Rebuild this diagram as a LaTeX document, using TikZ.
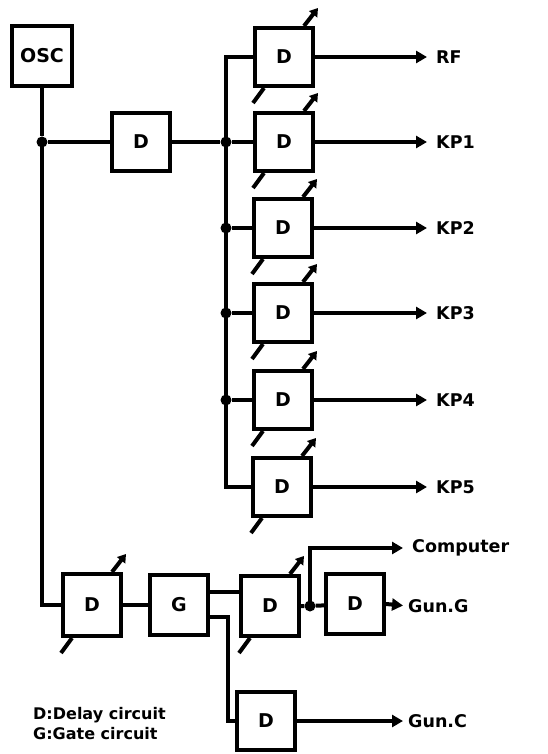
\documentclass[tikz,border=0pt]{standalone}
\usepackage{fontspec}
\setmainfont{DejaVu Sans}
\usetikzlibrary{arrows.meta,calc}
\tikzset{
  box/.style={draw, line width=4pt, fill=white, minimum width=58pt, minimum height=58pt, inner sep=0pt, font=\fontsize{19}{19}\selectfont\bfseries},
  wire/.style={line width=4pt},
  arr/.style={wire, -{Triangle[length=11pt,width=12pt]}},
  vhead/.style={wire, -{Triangle[length=8pt,width=10pt]}},
  jdot/.style={circle, fill=black, inner sep=0pt, minimum size=11pt},
  lab/.style={anchor=west, inner sep=0pt, font=\fontsize{17.5}{18}\selectfont\bfseries},
  legend/.style={anchor=west, inner sep=0pt, font=\fontsize{16}{16}\selectfont\bfseries}
}
\newcommand{\vararrow}[1]{%
  \draw[wire] ($(#1.south west)+(0,15)$) -- ($(#1.south west)+(11,0)$);
  \draw[vhead] ($(#1.north east)+(-11,0)$) -- ($(#1.north east)+(3,-18)$);
}
\begin{document}
\begin{tikzpicture}[x=1pt,y=-1pt]
\useasboundingbox (0,0) rectangle (547,754);
% top section
\node[box, minimum width=60pt, minimum height=60pt] (osc) at (42,56) {OSC};
\node[jdot] (j0) at (42,142) {};
\node[box] (d1) at (141,142) {D};
\node[jdot] (j1) at (226,142) {};
\node[jdot] (b2) at (226,228) {};
\node[jdot] (b3) at (226,313) {};
\node[jdot] (b4) at (226,400) {};
\coordinate (b5) at (226,487);

\node[box] (rf) at (284,57) {D};
\node[box] (kp1) at (284,142) {D};
\node[box] (kp2) at (283,228) {D};
\node[box] (kp3) at (283,313) {D};
\node[box] (kp4) at (283,400) {D};
\node[box] (kp5) at (282,487) {D};

\node[lab] (lrf) at (436,57) {RF};
\node[lab] (lkp1) at (436,142) {KP1};
\node[lab] (lkp2) at (436,228) {KP2};
\node[lab] (lkp3) at (436,313) {KP3};
\node[lab] (lkp4) at (436,400) {KP4};
\node[lab] (lkp5) at (436,487) {KP5};

\draw[wire] (osc.south) -- (j0);
\draw[wire] (j0) -- (d1);
\draw[wire] (d1) -- (j1);
\draw[wire] (j1) -- (kp1);
\draw[wire] (j1.center) |- (rf.west);
\draw[wire] (j1.center) -- (b2.center) -- (b3.center) -- (b4.center) -- (b5) -- (kp5.west);
\draw[wire] (b2) -- (kp2);
\draw[wire] (b3) -- (kp3);
\draw[wire] (b4) -- (kp4);

\foreach \n in {rf,kp1,kp2,kp3,kp4,kp5}{
  \draw[arr, shorten >=9pt] (\n.east) -- (l\n.west);
  \vararrow{\n}
}

% bottom section
\coordinate (cb) at (42,605);
\node[box, minimum height=62pt] (bd1) at (92,605) {D};
\node[box, minimum height=60pt] (g) at (179,605) {G};
\node[box, minimum height=60pt] (bd2) at (270,606) {D};
\node[jdot] (jc) at (310,606) {};
\node[box, minimum height=60pt] (bd3) at (355,604) {D};
\node[box] (bd4) at (266,721) {D};
\coordinate (gl) at (228,617);

\node[lab] (lcomp) at (412,548) {Computer};
\node[lab] (lgung) at (408,606) {Gun.G};
\node[lab] (lgunc) at (408,721) {Gun.C};

\draw[wire] (j0.center) -- (cb) -- (bd1.west);
\draw[wire] (bd1) -- (g);
\draw[wire] (g.east |- 0,592) -- (bd2.west |- 0,592);
\draw[wire] (g.east |- gl) -- (gl) |- (bd4.west);
\draw[wire] (bd2) -- (jc) -- (bd3);
\draw[arr, shorten >=9pt] (jc.center) |- (lcomp.west);
\draw[arr, shorten >=5pt] (bd3.east) -- (lgung.west);
\draw[arr, shorten >=5pt] (bd4.east) -- (lgunc.west);
\vararrow{bd1}
\vararrow{bd2}

% legend
\node[legend] (leg1) at (33,715) {D:Delay circuit};
\node[legend] (leg2) at (33,734) {G:Gate circuit};
\end{tikzpicture}
\end{document}
